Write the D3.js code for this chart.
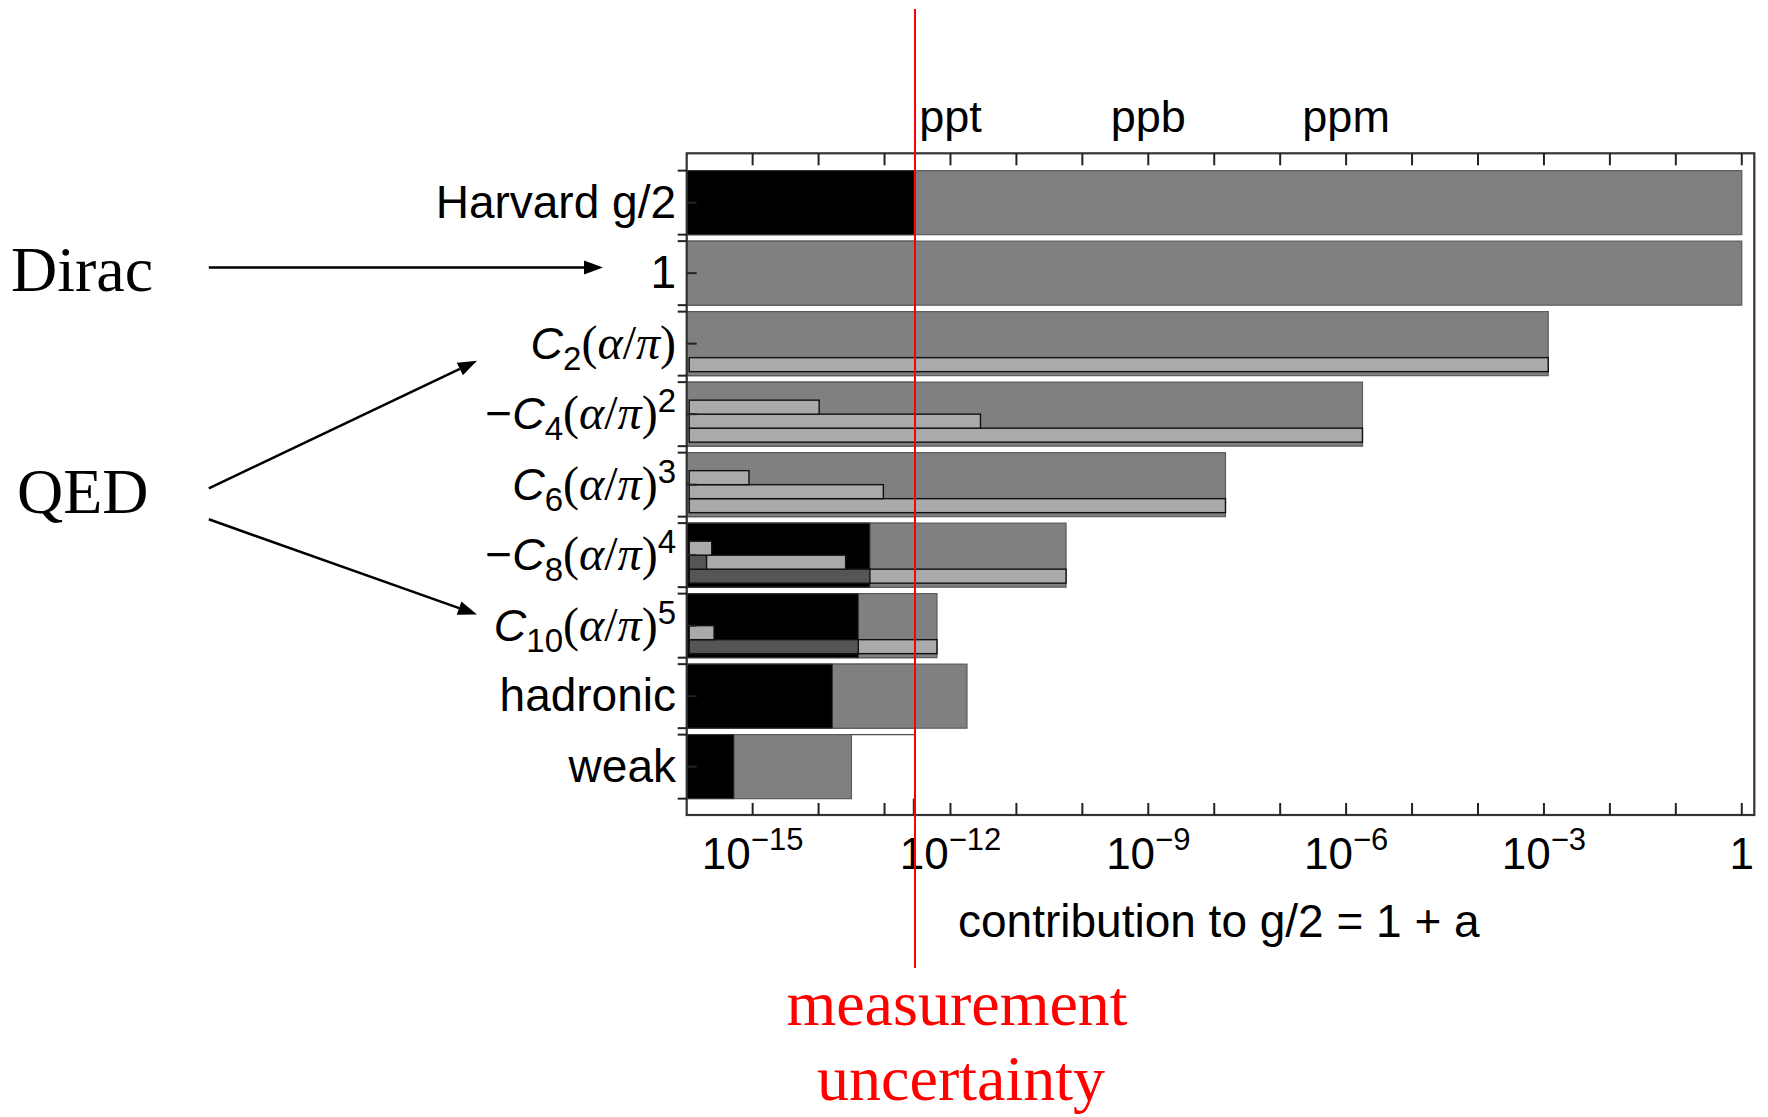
<!DOCTYPE html>
<html>
<head>
<meta charset="utf-8">
<script src="https://cdn.jsdelivr.net/npm/d3@7"></script>
<style>
  body { margin: 0; background: #fff; }
  svg { display: block; }
</style>
</head>
<body>
<div id="main"></div>
<script>
(function() {
  // categories, top to bottom
  const categories = ["harvard", "one", "c2", "c4", "c6", "c8", "c10", "hadronic", "weak"];

  // size of each contribution to g/2 (full bar)
  const mainValues = [1.00116, 1, 1.16e-3, 1.77e-6, 1.48e-8, 5.66e-11, 6.24e-13, 1.78e-12, 3.15e-14];
  // uncertainty of each contribution (black part), null = too small to show
  const mainUncert = [2.8e-13, null, null, null, null, 6.0e-14, 4.0e-14, 1.62e-14, 5.2e-16];

  // sub-terms (mass independent, muon, tau), listed from the bottom row up
  const subValues = [[], [], [1.16e-3], [1.77e-6, 2.85e-12, 1.02e-14], [1.48e-8, 9.6e-14, 8.8e-16],
                     [5.66e-11, 2.57e-14, 2.4e-16], [6.24e-13, 2.6e-16], [], []];
  const subUncert = [[], [], [null], [null, null, null], [null, null, null],
                     [6.0e-14, 2.0e-16, null], [4.0e-14, null], [], []];

  const measurementUncertainty = 2.9e-13;

  const tickExps = [-15, -12, -9, -6, -3, 0];
  const unitLabels = ["ppt", "ppb", "ppm"];
  const unitExps = [-12, -9, -6];

  // label pieces: [text, kind]  kind: n = sans, i = sans italic, s = serif, si = serif italic, sub, sup
  const labelParts = [
    [["Harvard g/2", "n"]],
    [["1", "n"]],
    [["C", "i"], ["2", "sub"], ["(", "s"], ["\u03b1", "si"], ["/", "s"], ["\u03c0", "si"], [")", "s"]],
    [["\u2212", "n"], ["C", "i"], ["4", "sub"], ["(", "s"], ["\u03b1", "si"], ["/", "s"], ["\u03c0", "si"], [")", "s"], ["2", "sup"]],
    [["C", "i"], ["6", "sub"], ["(", "s"], ["\u03b1", "si"], ["/", "s"], ["\u03c0", "si"], [")", "s"], ["3", "sup"]],
    [["\u2212", "n"], ["C", "i"], ["8", "sub"], ["(", "s"], ["\u03b1", "si"], ["/", "s"], ["\u03c0", "si"], [")", "s"], ["4", "sup"]],
    [["C", "i"], ["10", "sub"], ["(", "s"], ["\u03b1", "si"], ["/", "s"], ["\u03c0", "si"], [")", "s"], ["5", "sup"]],
    [["hadronic", "n"]],
    [["weak", "n"]]
  ];

  const W = 1768, H = 1117;
  const frame = { left: 686.7, right: 1754.3, top: 153.3, bottom: 815 };
  const sans = "'Liberation Sans', Arial, sans-serif";
  const serif = "'Liberation Serif', 'Times New Roman', serif";

  const svg = d3.select("#main").append("svg")
    .attr("width", W)
    .attr("height", H);

  svg.append("rect").attr("width", W).attr("height", H).attr("fill", "#fff");

  const x = d3.scaleLog()
    .domain([1e-16, Math.pow(10, 0.19)])
    .range([frame.left, frame.right]);

  const y = d3.scaleBand()
    .domain(categories)
    .range([167.4, 801.9])
    .paddingInner(0.092)
    .paddingOuter(0.046);

  const bw = y.bandwidth();
  const rowH = 14, rowPad = 4;
  const xu = x(measurementUncertainty);

  // white measurement-uncertainty strips sitting in the gaps between bars
  const strips = svg.append("g");
  categories.forEach((c, i) => {
    if (i === 0) return;
    const top = y(categories[i - 1]) + bw;
    strips.append("rect")
      .attr("x", frame.left)
      .attr("y", top)
      .attr("width", xu - frame.left)
      .attr("height", y(c) - top)
      .attr("fill", "#fff")
      .attr("stroke", "#444")
      .attr("stroke-width", 1.2);
  });
  const last = categories[categories.length - 1];
  strips.append("line")
    .attr("x1", xu - 1.5).attr("x2", xu - 1.5)
    .attr("y1", y(last) + bw).attr("y2", frame.bottom)
    .attr("stroke", "#333")
    .attr("stroke-width", 1.5);

  // main bars
  const bars = svg.append("g");
  categories.forEach((c, i) => {
    bars.append("rect")
      .attr("x", frame.left)
      .attr("y", y(c))
      .attr("width", x(mainValues[i]) - frame.left)
      .attr("height", bw)
      .attr("fill", "#808080")
      .attr("stroke", "#5a5a5a")
      .attr("stroke-width", 1.2);
    if (mainUncert[i] != null) {
      bars.append("rect")
        .attr("x", frame.left)
        .attr("y", y(c))
        .attr("width", x(mainUncert[i]) - frame.left)
        .attr("height", bw)
        .attr("fill", "#000")
        .attr("stroke", "#333")
        .attr("stroke-width", 1);
    }
    // sub-term rows
    subValues[i].forEach((v, j) => {
      const ry = y(c) + bw - rowPad - rowH * (j + 1);
      bars.append("rect")
        .attr("x", frame.left + 2.5)
        .attr("y", ry)
        .attr("width", x(v) - frame.left - 2.5)
        .attr("height", rowH)
        .attr("fill", "#aaaaaa")
        .attr("stroke", "#111")
        .attr("stroke-width", 1.4);
      const u = subUncert[i][j];
      if (u != null) {
        bars.append("rect")
          .attr("x", frame.left + 2.5)
          .attr("y", ry)
          .attr("width", x(u) - frame.left - 2.5)
          .attr("height", rowH)
          .attr("fill", "#555555")
          .attr("stroke", "#111")
          .attr("stroke-width", 1.4);
      }
    });
  });

  // frame
  svg.append("rect")
    .attr("x", frame.left)
    .attr("y", frame.top)
    .attr("width", frame.right - frame.left)
    .attr("height", frame.bottom - frame.top)
    .attr("fill", "none")
    .attr("stroke", "#333")
    .attr("stroke-width", 2.2);

  // decade ticks, top and bottom, pointing inward
  const decades = d3.range(-15, 1);
  const ticks = svg.append("g").attr("stroke", "#222").attr("stroke-width", 2);
  decades.forEach(k => {
    const tx = x(Math.pow(10, k));
    ticks.append("line").attr("x1", tx).attr("x2", tx).attr("y1", frame.top).attr("y2", frame.top + 12);
    ticks.append("line").attr("x1", tx).attr("x2", tx).attr("y1", frame.bottom).attr("y2", frame.bottom - 12);
  });

  // category ticks on the left frame
  categories.forEach(c => {
    [y(c), y(c) + bw].forEach(ty => {
      ticks.append("line").attr("x1", frame.left - 9).attr("x2", frame.left).attr("y1", ty).attr("y2", ty);
    });
    const cy = y(c) + bw / 2;
    ticks.append("line").attr("x1", frame.left).attr("x2", frame.left + 10).attr("y1", cy).attr("y2", cy);
  });

  // bottom tick labels
  tickExps.forEach(k => {
    const t = svg.append("text")
      .attr("x", x(Math.pow(10, k)))
      .attr("y", 869)
      .attr("text-anchor", "middle")
      .attr("font-family", sans)
      .attr("font-size", 44)
      .attr("fill", "#000");
    if (k === 0) {
      t.text("1");
    } else {
      t.append("tspan").text("10");
      t.append("tspan").attr("font-size", 31).attr("dy", -19).text("\u2212" + (-k));
    }
  });

  // ppt / ppb / ppm
  unitLabels.forEach((u, i) => {
    svg.append("text")
      .attr("x", x(Math.pow(10, unitExps[i])))
      .attr("y", 132)
      .attr("text-anchor", "middle")
      .attr("font-family", sans)
      .attr("font-size", 45)
      .text(u);
  });

  // axis title
  svg.append("text")
    .attr("x", 958)
    .attr("y", 937)
    .attr("font-family", sans)
    .attr("font-size", 46)
    .text("contribution to g/2 = 1 + a");

  // category labels
  categories.forEach((c, i) => {
    const t = svg.append("text")
      .attr("x", 676)
      .attr("y", y(c) + bw / 2 + 15)
      .attr("text-anchor", "end")
      .attr("font-size", 45)
      .attr("fill", "#000");
    let shift = 0;
    labelParts[i].forEach(([txt, kind]) => {
      const sp = t.append("tspan").text(txt);
      let target = 0;
      if (kind === "n") sp.attr("font-family", sans).attr("font-size", 46);
      if (kind === "i") sp.attr("font-family", sans).attr("font-style", "italic");
      if (kind === "s") sp.attr("font-family", serif).attr("font-size", 48);
      if (kind === "si") sp.attr("font-family", serif).attr("font-style", "italic").attr("font-size", 48);
      if (kind === "sub") { sp.attr("font-family", sans).attr("font-size", 33); target = 11; }
      if (kind === "sup") { sp.attr("font-family", sans).attr("font-size", 33); target = -17; }
      if (target !== shift) { sp.attr("dy", target - shift); shift = target; }
    });
  });

  // Dirac / QED annotations
  svg.append("text").attr("x", 11).attr("y", 291)
    .attr("font-family", serif).attr("font-size", 64).text("Dirac");
  svg.append("text").attr("x", 17).attr("y", 513)
    .attr("font-family", serif).attr("font-size", 64).text("QED");

  function arrow(x1, y1, x2, y2) {
    const a = Math.atan2(y2 - y1, x2 - x1);
    const len = 19, half = 7;
    const bx = x2 - len * Math.cos(a), by = y2 - len * Math.sin(a);
    svg.append("line")
      .attr("x1", x1).attr("y1", y1).attr("x2", bx).attr("y2", by)
      .attr("stroke", "#000").attr("stroke-width", 2.5);
    const pts = [
      [x2, y2],
      [bx + half * Math.sin(a), by - half * Math.cos(a)],
      [bx - half * Math.sin(a), by + half * Math.cos(a)]
    ];
    svg.append("polygon").attr("points", pts.map(p => p.join(",")).join(" ")).attr("fill", "#000");
  }
  arrow(208.8, 267.5, 603, 267.5);
  arrow(208.8, 488.3, 477, 360.8);
  arrow(208.8, 519.3, 477, 614.5);

  // measurement uncertainty line and caption
  svg.append("line")
    .attr("x1", xu).attr("x2", xu)
    .attr("y1", 9).attr("y2", 968)
    .attr("stroke", "#ff0000")
    .attr("stroke-width", 2);
  svg.append("text").attr("x", 957).attr("y", 1025)
    .attr("text-anchor", "middle").attr("font-family", serif).attr("font-size", 64)
    .attr("fill", "#ff0000").text("measurement");
  svg.append("text").attr("x", 961).attr("y", 1100)
    .attr("text-anchor", "middle").attr("font-family", serif).attr("font-size", 64)
    .attr("fill", "#ff0000").text("uncertainty");
})();
</script>
</body>
</html>
